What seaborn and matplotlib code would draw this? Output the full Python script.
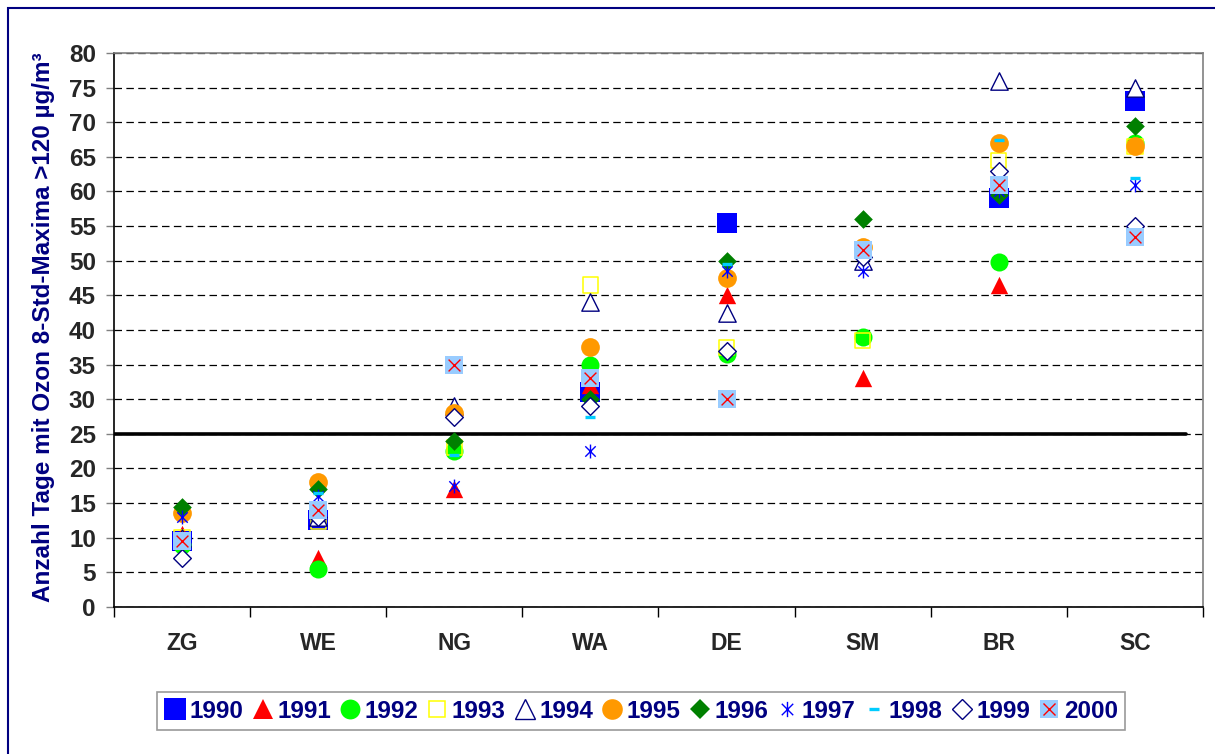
import numpy as np
import pandas as pd
import matplotlib
matplotlib.use('Agg')
import matplotlib.pyplot as plt
from matplotlib.lines import Line2D
from matplotlib.path import Path
from matplotlib.patches import Rectangle
import seaborn as sns

# Sites and yearly values (days with ozone 8h max > 120 ug/m3)
sites = ['ZG', 'WE', 'NG', 'WA', 'DE', 'SM', 'BR', 'SC']
years = ['1990', '1991', '1992', '1993', '1994', '1995', '1996', '1997', '1998', '1999', '2000']

v1990 = [9.5, 12.5, np.nan, 31, 55.5, np.nan, 59, 73]
v1991 = [10.5, 7, 17, 32, 45, 33, 46.5, np.nan]
v1992 = [9, 5.5, 22.5, 35, 36.5, 39, 49.8, 67]
v1993 = [10, 12.3, 23, 46.5, 37.5, 38.5, 64.5, 66.5]
v1994 = [10, 13, 29, 44, 42.5, 50, 76, 75]
v1995 = [13.5, 18, 28, 37.5, 47.5, 52, 67, 66.5]
v1996 = [14.5, 17, 24, 30, 50, 56, 59.5, 69.5]
v1997 = [13, 16, 17.5, 22.5, 48.5, 48.5, 60, 61]
v1998 = [10, 16.5, 22, 27.5, 49.5, 52, 67.5, 62]
v1999 = [7, 13, 27.5, 29, 37, 50.5, 63, 55]
v2000 = [9.5, 14, 35, 33, 30, 51.5, 61, 53.5]
values = [v1990, v1991, v1992, v1993, v1994, v1995, v1996, v1997, v1998, v1999, v2000]

threshold = 25
y_ticks = list(range(0, 85, 5))
y_label = 'Anzahl Tage mit Ozon 8-Std-Maxima >120 µg/m³'

navy = '#000080'

# Excel-like star marker: X with a vertical bar
star = Path([(0, -1), (0, 1), (-0.75, -0.75), (0.75, 0.75), (-0.75, 0.75), (0.75, -0.75)],
            [Path.MOVETO, Path.LINETO, Path.MOVETO, Path.LINETO, Path.MOVETO, Path.LINETO])

# marker styles per year: marker, face, edge, size, linewidth
styles = [
    dict(marker='s', facecolor='#0000FF', edgecolor='#0000FF', size=14, linewidth=0),
    dict(marker='^', facecolor='#FF0000', edgecolor='#FF0000', size=12.5, linewidth=0),
    dict(marker='o', facecolor='#00FF00', edgecolor='#00FF00', size=13, linewidth=0),
    dict(marker='s', facecolor='none', edgecolor='#FFFF00', size=11, linewidth=1.1),
    dict(marker='^', facecolor='white', edgecolor=navy, size=12.5, linewidth=1.0),
    dict(marker='o', facecolor='#FF9900', edgecolor='#FF9900', size=13.5, linewidth=0),
    dict(marker='D', facecolor='#008000', edgecolor='#008000', size=9.5, linewidth=0),
    dict(marker=star, facecolor='#0000FF', edgecolor='#0000FF', size=10, linewidth=1.0),
    dict(marker='_', facecolor='#00CCFF', edgecolor='#00CCFF', size=7, linewidth=2.4),
    dict(marker='D', facecolor='white', edgecolor=navy, size=9, linewidth=1.0),
    dict(marker='s', facecolor='#99CCFF', edgecolor='#99CCFF', size=13.5, linewidth=0),
]

sns.set_style('white')
plt.rcParams['font.family'] = ['Liberation Sans', 'DejaVu Sans']
plt.rcParams['font.weight'] = 'bold'

fig = plt.figure(figsize=(12.15, 7.54), dpi=100)
ax = fig.add_axes([0.0938, 0.195, 0.8963, 0.7347])

for year, vals, st in zip(years, values, styles):
    kws = dict(x=sites, y=vals, order=sites, jitter=False, ax=ax, marker=st['marker'],
               size=st['size'], linewidth=st['linewidth'], edgecolor=st['edgecolor'], zorder=3)
    if st['marker'] == '_':
        sns.stripplot(color=st['facecolor'], **kws)
    else:
        sns.stripplot(color=st['edgecolor'], facecolor=st['facecolor'], **kws)
    if year == '2000':
        # red cross drawn over the light blue square
        sns.stripplot(x=sites, y=vals, order=sites, jitter=False, ax=ax, marker='x',
                      size=8.5, linewidth=1.0, color='#FF0000', zorder=3)

# reference line at 25 days
ax.axhline(threshold, xmin=0, xmax=0.984, color='black', lw=2.6, zorder=2)

ax.set_ylim(0, 80)
ax.set_yticks(y_ticks)
ax.set_yticklabels([str(t) for t in y_ticks], fontsize=17.5, fontweight='bold')
ax.yaxis.grid(True, linestyle=(0, (6, 3.5)), color='black', lw=0.9)
ax.xaxis.grid(False)
ax.set_axisbelow(True)

# category ticks between sites, labels centered
ax.set_xlim(-0.5, len(sites) - 0.5)
ax.set_xticks(np.arange(len(sites) + 1) - 0.5)
ax.set_xticklabels([])
ax.set_xticks(np.arange(len(sites)), minor=True)
ax.set_xticklabels(sites, minor=True, fontsize=16.5, fontweight='bold')
ax.tick_params(axis='x', which='major', direction='out', length=7, width=1, color='black', bottom=True)
ax.tick_params(axis='x', which='minor', length=0, pad=18)
ax.tick_params(axis='y', direction='out', length=6, width=1, color='gray', left=True, pad=7)

ax.set_xlabel('')
ax.set_ylabel(y_label, fontsize=17.5, fontweight='bold', color=navy)
ax.yaxis.set_label_coords(-0.054, 0.505)

for side in ['left', 'bottom']:
    ax.spines[side].set_color('black')
    ax.spines[side].set_linewidth(1.2)
for side in ['top', 'right']:
    ax.spines[side].set_visible(True)
    ax.spines[side].set_color('#808080')
    ax.spines[side].set_linewidth(1.2)

# legend
handles = []
for st in styles[:-1]:
    handles.append(Line2D([], [], ls='none', marker=st['marker'], markersize=st['size'] * 1.1,
                          markerfacecolor=st['facecolor'], markeredgecolor=st['edgecolor'],
                          markeredgewidth=st['linewidth'] if st['linewidth'] else 0))
sq = Line2D([], [], ls='none', marker='s', markersize=styles[-1]['size'],
            markerfacecolor='#99CCFF', markeredgewidth=0)
cross = Line2D([], [], ls='none', marker='x', markersize=9, markeredgecolor='#FF0000', markeredgewidth=1)
handles.append((sq, cross))

leg = fig.legend(handles, years, loc='center', bbox_to_anchor=(0.5276, 0.057),
                 bbox_transform=fig.transFigure, ncol=11, frameon=True, fancybox=False,
                 edgecolor='#808080', handlelength=0.9, handletextpad=0.15, columnspacing=0.33,
                 borderpad=0.3, prop={'size': 17.5, 'weight': 'bold'}, labelcolor=navy)
leg.get_frame().set_linewidth(1.2)

# outer chart frame
fig.patches.append(Rectangle((8 / 1215, -0.05), 1.2, 1 - 8 / 754 + 0.05, transform=fig.transFigure,
                             fill=False, edgecolor=navy, lw=1.5))

fig.savefig('out.png', dpi=100)
